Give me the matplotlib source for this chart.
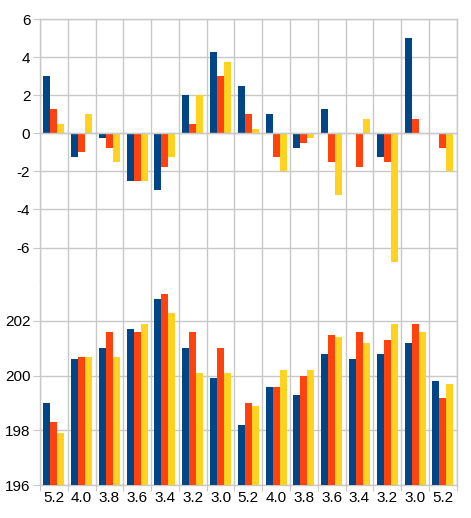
import matplotlib
matplotlib.use('Agg')
import matplotlib.pyplot as plt
import numpy as np

plt.rcParams['font.family'] = ['Liberation Sans', 'DejaVu Sans']
plt.rcParams['axes.unicode_minus'] = False

labels = ['5.2', '4.0', '3.8', '3.6', '3.4', '3.2', '3.0',
          '5.2', '4.0', '3.8', '3.6', '3.4', '3.2', '3.0', '5.2']

# top panel: differences
diff_a = [3.0, -1.25, -0.25, -2.5, -3.0, 2.0, 4.25, 2.5, 1.0, -0.75, 1.25, 0.0, -1.25, 5.0, 0.0]
diff_b = [1.25, -1.0, -0.75, -2.5, -1.75, 0.5, 3.0, 1.0, -1.25, -0.5, -1.5, -1.75, -1.5, 0.75, -0.75]
diff_c = [0.5, 1.0, -1.5, -2.5, -1.25, 2.0, 3.75, 0.25, -2.0, -0.25, -3.25, 0.75, -6.75, 0.0, -2.0]

# bottom panel: absolute values
val_a = [199.0, 200.6, 201.0, 201.7, 202.8, 201.0, 199.9, 198.2, 199.6, 199.3, 200.8, 200.6, 200.8, 201.2, 199.8]
val_b = [198.3, 200.7, 201.6, 201.6, 203.0, 201.6, 201.0, 199.0, 199.6, 200.0, 201.5, 201.6, 201.3, 201.9, 199.2]
val_c = [197.9, 200.7, 200.7, 201.9, 202.3, 200.1, 200.1, 198.9, 200.2, 200.2, 201.4, 201.2, 201.9, 201.6, 199.7]

colors = ['#004586', '#ff420e', '#ffd320']
grid_c = '#c8c8c8'

fig = plt.figure(figsize=(4.71, 5.18), dpi=100)
ax1 = fig.add_axes([0.0849, 0.4595, 0.8847, 0.5038])
ax2 = fig.add_axes([0.0849, 0.0637, 0.8847, 0.3958])

x = np.arange(len(labels))
w = 0.252

for ax, series in [(ax1, [diff_a, diff_b, diff_c]), (ax2, [val_a, val_b, val_c])]:
    for k, s in enumerate(series):
        if ax is ax2:
            ax.bar(x + (k - 1) * w, np.array(s) - 196, w, bottom=196, color=colors[k], zorder=3)
        else:
            ax.bar(x + (k - 1) * w, s, w, color=colors[k], zorder=3)
    ax.set_xlim(-0.5, len(labels) - 0.5)
    ax.set_xticks(np.arange(len(labels) + 1) - 0.5)
    ax.set_xticklabels([])
    ax.set_xticks(x, minor=True)
    ax.tick_params(axis='x', which='minor', length=0)
    ax.tick_params(axis='x', which='major', length=4, color=grid_c, direction='out')
    ax.tick_params(axis='y', length=5, color=grid_c, direction='out', labelsize=11, pad=2)
    ax.grid(True, color=grid_c, linewidth=1, zorder=0)
    for sp in ax.spines.values():
        sp.set_color(grid_c)
        sp.set_linewidth(1)

# top panel
ax1.set_ylim(-7.7, 6)
ax1.set_yticks([-6, -4, -2, 0, 2, 4, 6])
ax1.spines['bottom'].set_position(('data', 0))
ax1.spines['bottom'].set_zorder(4)
ax1.tick_params(axis='x', which='major', length=3)

# bottom panel
ax2.set_ylim(196, 203.5)
ax2.set_yticks([196, 198, 200, 202])
ax2.spines['top'].set_visible(False)
ax2.set_xticks(x, minor=True)
ax2.set_xticklabels(labels, minor=True)
ax2.tick_params(axis='x', which='minor', labelsize=11, pad=4)

fig.savefig('out.png', dpi=100)
